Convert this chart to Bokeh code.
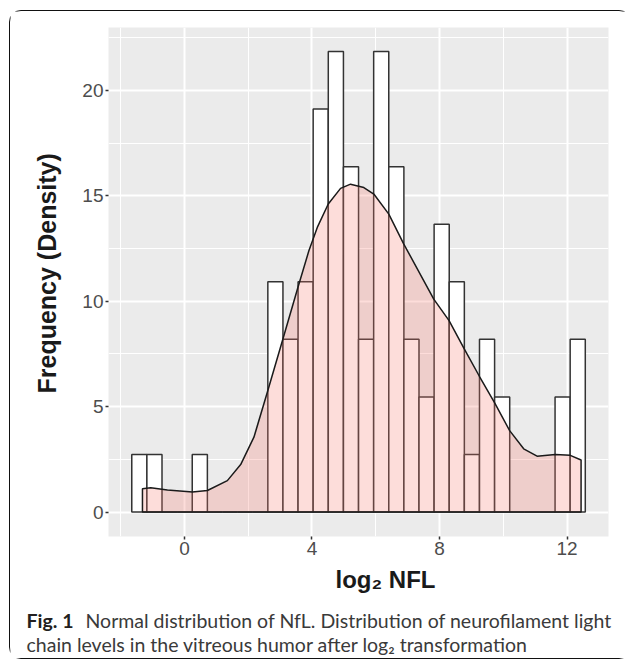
from bokeh.plotting import figure
from bokeh.layouts import column
from bokeh.models import Range1d, FixedTicker, Title
from bokeh.core.properties import value
from bokeh.embed import file_html
from bokeh.resources import INLINE

# ---------------- data ----------------
bin_edges = [-1.651, -1.177, -0.703, -0.229, 0.245, 0.720, 1.194, 1.668, 2.142, 2.616,
             3.090, 3.564, 4.038, 4.512, 4.987, 5.461, 5.935, 6.409, 6.883, 7.357,
             7.831, 8.305, 8.779, 9.254, 9.728, 10.202, 10.676, 11.150, 11.624, 12.098,
             12.572]
bar_heights = [2.73, 2.73, 0, 0, 2.73, 0, 0, 0, 0, 10.92,
               8.19, 10.92, 19.11, 21.84, 16.38, 8.19, 21.84, 16.38, 8.19, 5.46,
               13.65, 10.92, 2.73, 8.19, 5.46, 0, 0, 0, 5.46, 8.19]

density_x = [-1.316, -1.056, -0.533, 0.251, 0.721, 1.347, 1.764, 2.180, 2.600, 3.089,
             3.559, 3.903, 4.167, 4.511, 4.897, 5.210, 5.627, 5.940, 6.410, 6.880,
             7.820, 8.300, 8.780, 9.250, 9.730, 10.200, 10.640, 11.060, 11.630, 12.100,
             12.440]
density_y = [1.10, 1.15, 1.05, 0.95, 1.02, 1.49, 2.25, 3.55, 5.68, 8.21,
             10.65, 12.39, 13.50, 14.61, 15.35, 15.55, 15.39, 15.08, 14.13, 12.71,
             10.10, 9.08, 7.73, 6.44, 5.18, 3.86, 3.00, 2.65, 2.73, 2.69,
             2.47]

x_ticks = [0, 4, 8, 12]
x_minor = [-2, 2, 6, 10]
y_ticks = [0, 5, 10, 15, 20]
y_minor = [2.5, 7.5, 12.5, 17.5, 22.5]

x_title = "log\u2082 NFL"
y_title = "Frequency (Density)"
caption_bold = "Fig. 1"
caption_line1 = "Normal distribution of NfL. Distribution of neurofilament light"
caption_line2 = "chain levels in the vitreous humor after log\u2082 transformation"

# ---------------- layout (px) ----------------
OX, OY = 10, 11            # offset of the framed box on the page
W, H_MAIN, H_CAP = 620, 589, 58
FL, FR, FT, FB = 98, 598, 16, 525   # panel edges inside the main figure

p = figure(width=W, height=H_MAIN, output_backend="svg", toolbar_location=None,
           x_range=Range1d(-2.381, 13.30), y_range=Range1d(-1.16, 22.98),
           min_border_left=FL, min_border_right=W - FR,
           min_border_top=FT, min_border_bottom=H_MAIN - FB,
           background_fill_color="#EBEBEB", border_fill_color="white",
           outline_line_color=None, frame_align=False)

p.xaxis.ticker = FixedTicker(ticks=x_ticks, minor_ticks=x_minor)
p.yaxis.ticker = FixedTicker(ticks=y_ticks, minor_ticks=y_minor)
for ax in (p.xaxis[0], p.yaxis[0]):
    ax.axis_line_color = None
    ax.major_tick_line_color = "#333333"
    ax.major_tick_line_width = 1.5
    ax.major_tick_out = 3
    ax.major_tick_in = 0
    ax.minor_tick_line_color = None
    ax.major_label_text_font = "Liberation Sans"
    ax.major_label_text_font_size = "19px"
    ax.major_label_text_color = "#4D4D4D"
p.xaxis.major_label_standoff = 1
p.yaxis.major_label_standoff = 1

p.grid.grid_line_color = "white"
p.grid.grid_line_width = 2
p.grid.minor_grid_line_color = "white"
p.grid.minor_grid_line_width = 1

# histogram
p.quad(left=bin_edges[:-1], right=bin_edges[1:], bottom=0, top=bar_heights,
       fill_color="white", line_color="#333333", line_width=1.5)

# density area
dx = [density_x[0]] + density_x + [density_x[-1]]
dy = [0] + density_y + [0]
p.patch(dx, dy, fill_color="#F8766D", fill_alpha=0.25,
        line_color="#1a1a1a", line_width=1.5)

# axis titles
p.add_layout(Title(text=x_title, align="left", offset=227, standoff=12,
                   text_font="Liberation Sans", text_font_style="bold",
                   text_font_size="24px", text_color="#1a1a1a"), "below")
p.add_layout(Title(text=y_title, align="left", offset=143, standoff=38,
                   text_font="Liberation Sans", text_font_style="bold",
                   text_font_size="25px", text_color="#1a1a1a"), "left")

# caption (a text-only strip under the chart)
cap = figure(width=W, height=H_CAP, output_backend="svg", toolbar_location=None,
             x_range=Range1d(0, W), y_range=Range1d(H_CAP, 0),
             x_axis_type=None, y_axis_type=None, min_border=0,
             min_border_left=0, min_border_right=0, min_border_top=0,
             min_border_bottom=0, frame_align=False,
             outline_line_color=None, background_fill_color="white",
             border_fill_color="white")
cap.text(x=[16], y=[19.6], text=[caption_bold], text_font=value("Lato"),
         text_font_style="bold", text_font_size="19.5px", text_align="left",
         text_baseline="alphabetic", text_color="#231f20")
cap.text(x=[75], y=[19.6], text=[caption_line1], text_font=value("Lato"),
         text_font_size="19.5px", text_align="left", text_baseline="alphabetic",
         text_color="#3a3a3a")
cap.text(x=[16], y=[43.6], text=[caption_line2], text_font=value("Lato"),
         text_font_size="19.5px", text_align="left", text_baseline="alphabetic",
         text_color="#3a3a3a")

layout = column(p, cap, spacing=0,
                styles={"margin": f"{OY}px 0px 0px {OX}px",
                        "outline": "1.5px solid #111111",
                        "border-radius": "11px"})

open("out.html", "w").write(file_html(layout, INLINE))
